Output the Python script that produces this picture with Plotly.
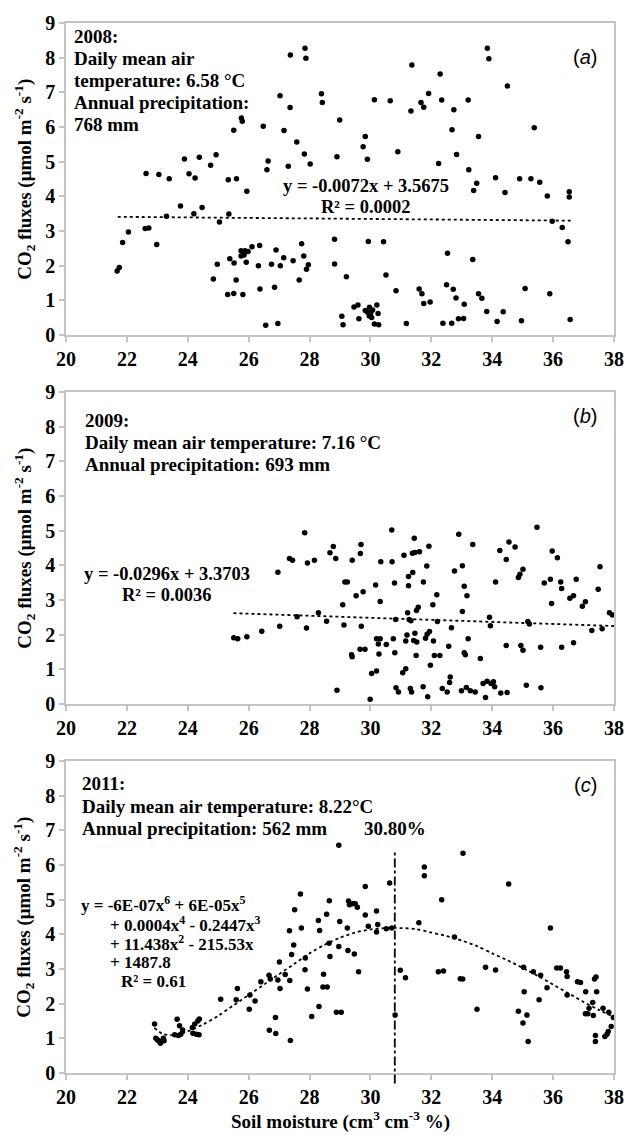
import plotly.graph_objects as go

# ---------------- data ----------------
a_x = [21.68, 21.75, 21.86, 22.05, 22.63, 22.60, 22.72, 22.98, 23.05, 23.39, 23.30, 23.76, 23.89, 24.04, 24.20,
       24.24, 24.38, 24.47, 24.75, 24.93, 24.84, 24.97, 25.04, 25.31, 25.33, 25.35, 25.38, 25.51, 25.52, 25.51,
       25.59, 25.60, 25.75, 25.75, 25.76, 25.79, 25.81, 25.85, 25.88, 25.92, 25.94, 25.98, 26.11, 26.32, 26.36,
       26.37, 26.48, 26.56, 26.60, 26.64, 26.75, 26.85, 26.90, 26.96, 27.03, 27.04, 27.15, 27.16, 27.30, 27.36,
       27.37, 27.46, 27.58, 27.66, 27.74, 27.81, 27.83, 27.85, 27.88, 27.90, 27.96, 28.02, 28.39, 28.42, 28.82,
       28.82, 28.90, 28.99, 29.06, 29.10, 29.21, 29.46, 29.59, 29.62, 29.76, 29.83, 29.83, 29.90, 29.91, 29.93,
       29.96, 29.97, 30.01, 30.04, 30.07, 30.13, 30.13, 30.21, 30.25, 30.27, 30.43, 30.51, 30.65, 30.84, 30.90,
       31.18, 31.33, 31.36, 31.60, 31.66, 31.69, 31.75, 31.75, 31.91, 31.96, 32.24, 32.29, 32.34, 32.38, 32.53,
       32.50, 32.67, 32.68, 32.72, 32.74, 32.81, 32.83, 32.89, 33.06, 33.08, 33.21, 33.23, 33.36, 33.39, 33.49,
       33.55, 33.55, 33.66, 33.82, 33.84, 33.89, 34.11, 34.16, 34.36, 34.42, 34.50, 34.90, 34.96, 35.08, 35.27,
       35.38, 35.56, 35.81, 35.89, 35.97, 36.30, 36.49, 36.53, 36.53, 36.56]
a_y = [1.85, 1.95, 2.67, 2.97, 4.66, 3.07, 3.09, 2.61, 4.63, 4.51, 3.43, 3.72, 5.08, 4.65, 3.50,
       4.53, 5.13, 3.68, 4.90, 5.20, 1.62, 2.04, 3.26, 1.17, 4.48, 3.49, 2.20, 5.91, 2.08, 1.20,
       1.59, 4.51, 2.43, 2.28, 6.26, 6.17, 1.17, 2.31, 2.43, 2.10, 4.15, 2.41, 2.55, 2.00, 2.58,
       1.33, 6.02, 0.28, 4.77, 5.02, 2.04, 1.38, 2.45, 0.33, 6.90, 2.00, 2.23, 5.90, 4.87, 6.56,
       8.08, 2.14, 5.57, 1.59, 2.63, 2.28, 5.22, 8.27, 7.98, 1.90, 2.03, 4.93, 6.96, 6.71, 2.76,
       2.05, 5.14, 6.20, 0.54, 0.30, 1.68, 0.81, 0.87, 0.47, 5.43, 5.73, 0.71, 5.07, 0.66, 2.70,
       0.55, 0.80, 0.64, 0.51, 0.72, 6.79, 0.32, 0.87, 0.62, 0.30, 2.69, 1.73, 6.76, 1.28, 5.29,
       0.33, 6.46, 7.79, 1.33, 6.71, 1.19, 6.57, 0.91, 6.97, 0.95, 4.95, 7.53, 6.78, 0.34, 2.36,
       1.45, 0.34, 5.92, 1.32, 6.50, 1.07, 5.21, 0.47, 0.48, 0.89, 6.78, 4.77, 2.18, 4.17, 4.38,
       5.73, 1.19, 1.06, 0.68, 8.27, 7.97, 4.54, 0.39, 0.67, 4.11, 7.18, 4.51, 0.41, 1.34, 4.51,
       5.98, 4.41, 4.01, 1.19, 3.28, 3.10, 2.69, 3.98, 4.13, 0.45]

b_x = [25.51, 25.64, 25.94, 26.43, 26.96, 27.02, 27.34, 27.44, 27.59, 27.84, 27.90, 27.93, 28.16, 28.29, 28.56,
       28.67, 28.78, 28.86, 28.90, 29.09, 29.13, 29.16, 29.24, 29.38, 29.40, 29.40, 29.53, 29.66, 29.67, 29.69,
       29.70, 29.76, 29.82, 29.99, 30.04, 30.17, 30.20, 30.20, 30.26, 30.28, 30.32, 30.34, 30.32, 30.52, 30.70,
       30.71, 30.75, 30.79, 30.80, 30.83, 30.84, 30.92, 31.06, 31.10, 31.16, 31.16, 31.20, 31.22, 31.25, 31.25,
       31.27, 31.31, 31.33, 31.35, 31.38, 31.39, 31.42, 31.44, 31.46, 31.46, 31.50, 31.51, 31.52, 31.57, 31.61,
       31.74, 31.73, 31.81, 31.85, 31.86, 31.88, 31.92, 31.94, 31.97, 32.05, 32.07, 32.10, 32.18, 32.20, 32.28,
       32.36, 32.52, 32.57, 32.60, 32.62, 32.66, 32.76, 32.90, 32.99, 33.02, 33.02, 33.08, 33.08, 33.12, 33.15,
       33.17, 33.21, 33.28, 33.36, 33.44, 33.61, 33.70, 33.78, 33.83, 33.91, 33.94, 33.96, 34.04, 34.08, 34.11,
       34.25, 34.28, 34.46, 34.46, 34.49, 34.55, 34.75, 34.86, 34.91, 34.94, 35.01, 35.01, 35.12, 35.17, 35.22,
       35.47, 35.59, 35.60, 35.71, 35.91, 35.95, 35.97, 36.14, 36.25, 36.28, 36.28, 36.55, 36.67, 36.67, 36.76,
       36.96, 37.06, 37.27, 37.48, 37.54, 37.61, 37.85, 37.95]
b_y = [1.91, 1.88, 1.94, 2.10, 3.80, 2.24, 4.20, 4.15, 2.52, 4.94, 2.19, 4.07, 4.15, 2.63, 2.39,
       4.36, 4.54, 4.20, 0.40, 2.86, 2.28, 3.52, 3.52, 1.42, 4.15, 1.36, 3.12, 1.58, 4.34, 4.60,
       2.24, 3.24, 1.58, 0.14, 0.88, 3.43, 0.95, 1.88, 1.73, 1.44, 2.96, 4.10, 1.88, 1.72, 5.02,
       4.10, 1.88, 3.49, 1.48, 2.44, 0.47, 0.35, 0.90, 4.29, 1.02, 1.82, 1.99, 2.63, 3.41, 3.68,
       2.44, 0.45, 2.40, 0.35, 4.35, 3.79, 1.83, 4.78, 4.37, 2.04, 1.40, 2.70, 1.79, 2.79, 4.39,
       3.52, 0.50, 1.90, 3.98, 2.01, 0.21, 4.55, 2.09, 1.12, 2.86, 1.82, 1.40, 3.15, 2.38, 1.40,
       0.45, 0.35, 1.67, 0.62, 0.78, 2.20, 3.84, 4.90, 0.38, 3.99, 2.67, 3.40, 1.48, 1.42, 0.48,
       3.12, 1.88, 0.38, 4.60, 0.35, 1.31, 0.59, 0.19, 0.66, 2.50, 2.26, 0.59, 0.64, 0.50, 3.52,
       4.43, 0.32, 4.17, 1.69, 0.33, 4.67, 4.53, 3.65, 3.74, 1.69, 3.89, 1.55, 0.54, 2.38, 2.31,
       5.10, 1.64, 0.47, 3.49, 3.60, 2.90, 4.41, 4.22, 3.52, 3.33, 1.64, 3.05, 3.12, 1.77, 3.60,
       2.82, 2.95, 2.12, 3.31, 3.96, 2.17, 2.63, 2.57]

c_x = [22.91, 22.95, 23.00, 23.04, 23.10, 23.20, 23.22, 23.57, 23.65, 23.69, 23.73, 23.77, 23.83, 24.15, 24.17,
       24.23, 24.28, 24.33, 24.38, 24.37, 25.08, 25.59, 25.63, 26.02, 26.04, 26.21, 26.40, 26.67, 26.68, 26.71,
       26.88, 26.89, 26.96, 27.01, 27.03, 27.20, 27.34, 27.35, 27.37, 27.41, 27.48, 27.51, 27.70, 27.73, 27.85,
       27.86, 27.93, 28.07, 28.29, 28.31, 28.33, 28.44, 28.46, 28.56, 28.58, 28.64, 28.65, 28.67, 28.88, 28.96,
       28.96, 28.99, 29.04, 29.24, 29.26, 29.28, 29.31, 29.42, 29.47, 29.50, 29.57, 29.61, 29.83, 29.83, 29.93,
       30.20, 30.20, 30.24, 30.52, 30.63, 30.70, 30.81, 30.98, 31.15, 31.59, 31.77, 31.77, 32.23, 32.34, 32.40,
       32.76, 32.95, 33.03, 33.04, 33.50, 33.78, 34.11, 34.54, 34.86, 35.03, 35.05, 35.01, 35.14, 35.18, 35.35,
       35.54, 35.59, 35.80, 35.91, 36.12, 36.24, 36.44, 36.46, 36.46, 36.80, 36.90, 37.07, 37.06, 37.14, 37.18,
       37.30, 37.32, 37.36, 37.39, 37.39, 37.41, 37.43, 37.64, 37.70, 37.77, 37.81, 37.83, 37.91, 37.98]
c_y = [1.41, 1.00, 0.96, 0.93, 0.86, 1.00, 0.93, 1.10, 1.55, 1.08, 1.36, 1.12, 1.24, 1.31, 1.15,
       1.41, 1.12, 1.50, 1.56, 1.10, 2.13, 2.11, 2.44, 1.84, 2.25, 2.08, 2.63, 2.82, 1.23, 2.71,
       1.60, 1.14, 2.68, 3.20, 2.44, 2.84, 4.10, 2.67, 0.94, 3.42, 3.69, 4.71, 5.16, 4.18, 2.98,
       3.32, 2.42, 1.63, 4.40, 1.92, 4.11, 2.48, 2.85, 4.58, 2.48, 3.74, 4.97, 3.36, 1.75, 6.57,
       3.65, 4.37, 1.75, 4.18, 3.53, 4.96, 4.85, 4.88, 3.43, 4.88, 4.78, 2.92, 5.38, 4.56, 4.23,
       4.67, 4.07, 4.28, 4.16, 5.48, 4.18, 1.67, 2.96, 2.75, 4.33, 5.94, 5.69, 2.92, 5.00, 2.94,
       3.92, 2.72, 2.71, 6.34, 1.84, 3.05, 2.97, 5.45, 1.78, 3.05, 2.34, 1.44, 1.67, 0.91, 2.92,
       2.11, 2.82, 2.46, 4.18, 3.03, 3.03, 2.92, 2.78, 2.25, 2.63, 2.61, 2.34, 1.71, 1.71, 1.87,
       2.03, 1.66, 2.71, 1.08, 0.91, 2.77, 2.34, 1.87, 1.05, 1.12, 1.20, 1.75, 1.34, 1.60]

# trend lines
a_trend_x = [21.7, 36.6]
a_trend_y = [3.41, 3.30]
b_trend_x = [25.5, 38.0]
b_trend_y = [2.62, 2.25]
c_curve_x = [22.9, 23.2, 23.6, 24.0, 24.5, 25.0, 25.5, 26.0, 26.5, 27.0, 27.5, 28.0, 28.5, 29.0, 29.5, 30.0,
             30.5, 31.0, 31.5, 32.0, 32.5, 33.0, 33.5, 34.0, 34.5, 35.0, 35.5, 36.0, 36.5, 37.0, 37.5, 38.0]
c_curve_y = [1.30, 1.12, 1.10, 1.20, 1.40, 1.65, 1.95, 2.25, 2.55, 2.85, 3.15, 3.45, 3.70, 3.90, 4.05, 4.14,
             4.18, 4.18, 4.15, 4.05, 3.95, 3.82, 3.66, 3.45, 3.25, 3.03, 2.80, 2.55, 2.30, 2.05, 1.82, 1.62]
c_peak = 30.8

x_ticks = [20, 22, 24, 26, 28, 30, 32, 34, 36, 38]
y_ticks = [0, 1, 2, 3, 4, 5, 6, 7, 8, 9]

a_info = ["2008:", "Daily mean air", "temperature: 6.58 °C", "Annual precipitation:", "768 mm"]
b_info = ["2009:", "Daily mean air temperature: 7.16 °C", "Annual precipitation: 693 mm"]
c_info = ["2011:", "Daily mean air temperature: 8.22°C", "Annual precipitation: 562 mm"]
c_eq = ["y = -6E-07x<sup>6</sup> + 6E-05x<sup>5</sup>", "+ 0.0004x<sup>4</sup> - 0.2447x<sup>3</sup>",
        "+ 11.438x<sup>2</sup> - 215.53x", "+ 1487.8", "R² = 0.61"]

# ---------------- figure ----------------
W, H = 636, 1135
ML, MR, MT, MB = 66, 12, 20, 62
domains = {1: [0.7028, 1.0], 2: [0.3514, 0.6486], 3: [0.0, 0.2972]}

SERIF = "Liberation Serif, Times New Roman, serif"
SANS = "Liberation Sans, Arial, sans-serif"
AXC = "#c4c4c4"

fig = go.Figure()

def ax(i):
    return ("x", "y") if i == 1 else (f"x{i}", f"y{i}")

def add_points(i, xs, ys):
    xa, ya = ax(i)
    fig.add_trace(go.Scatter(x=xs, y=ys, mode="markers", marker=dict(color="black", size=5.5),
                             xaxis=xa, yaxis=ya, showlegend=False, hoverinfo="skip"))

def add_line(i, xs, ys, shape="linear"):
    xa, ya = ax(i)
    fig.add_trace(go.Scatter(x=xs, y=ys, mode="lines",
                             line=dict(color="black", width=1.8, dash="dot", shape=shape, smoothing=0.8),
                             xaxis=xa, yaxis=ya, showlegend=False, hoverinfo="skip"))

add_line(1, a_trend_x, a_trend_y)
add_points(1, a_x, a_y)
add_line(2, b_trend_x, b_trend_y)
add_points(2, b_x, b_y)
add_line(3, c_curve_x, c_curve_y, shape="spline")
add_points(3, c_x, c_y)

for i in (1, 2, 3):
    sx = "" if i == 1 else str(i)
    common = dict(showgrid=False, zeroline=False, showline=True, linecolor=AXC, linewidth=1.5, mirror=True,
                  ticks="outside", ticklen=5, tickcolor=AXC, tickwidth=1.5,
                  tickfont=dict(family=SERIF, size=20, color="black", weight="bold"))
    fig.layout[f"xaxis{sx}"] = dict(domain=[0, 1], range=[20, 38], anchor=f"y{sx}", tickvals=x_ticks, **common)
    fig.layout[f"yaxis{sx}"] = dict(domain=domains[i], range=[0, 9], anchor=f"x{sx}", tickvals=y_ticks, **common)

ann = []
def txt(i, x, y, text, size=19, xanchor="left", yanchor="middle", align="left", family=SERIF, bold=True):
    xa, ya = ax(i)
    ann.append(dict(xref=xa, yref=ya, x=x, y=y, text=text, showarrow=False,
                    xanchor=xanchor, yanchor=yanchor, align=align,
                    font=dict(family=family, size=size, color="black", weight="bold" if bold else "normal")))

# panel a
for t, yy in zip(a_info, [8.6, 7.97, 7.34, 6.71, 6.08]):
    txt(1, 20.19, yy, t)
txt(1, 29.84, 4.3, "y = -0.0072x + 3.5675", size=18.5, xanchor="center")
txt(1, 29.84, 3.7, "R² = 0.0002", size=18.5, xanchor="center")
txt(1, 37.5, 8.02, "(<i>a</i>)", size=20, xanchor="right", family=SANS, bold=False)

# panel b
for t, yy in zip(b_info, [8.17, 7.54, 6.91]):
    txt(2, 20.55, yy, t)
txt(2, 23.32, 3.75, "y = -0.0296x + 3.3703", size=18.5, xanchor="center")
txt(2, 23.32, 3.15, "R² = 0.0036", size=18.5, xanchor="center")
txt(2, 37.5, 8.3, "(<i>b</i>)", size=20, xanchor="right", family=SANS, bold=False)

# panel c
for t, yy in zip(c_info, [8.35, 7.68, 7.06]):
    txt(3, 20.45, yy, t)
for t, xx, yy in zip(c_eq, [20.42, 21.39, 21.39, 21.39, 21.74], [4.87, 4.31, 3.75, 3.19, 2.63]):
    txt(3, xx, yy, t, size=17)
txt(3, c_peak, 7.06, "30.80%", xanchor="center")
txt(3, 37.5, 8.3, "(<i>c</i>)", size=20, xanchor="right", family=SANS, bold=False)

plot_h = H - MT - MB
for i in (1, 2, 3):
    d = domains[i]
    ann.append(dict(xref="paper", yref="paper", x=(23 - ML) / (W - ML - MR), y=(d[0] + d[1]) / 2,
                    text="CO<sub>2</sub> fluxes (μmol m<sup>-2</sup> s<sup>-1</sup>)", textangle=-90,
                    showarrow=False, xanchor="center", yanchor="middle",
                    font=dict(family=SERIF, size=19, color="black", weight="bold")))

ann.append(dict(xref="paper", yref="paper", x=0.5, y=-(1121 - (H - MB)) / plot_h,
                text="Soil moisture (cm<sup>3</sup> cm<sup>-3</sup> %)", showarrow=False,
                xanchor="center", yanchor="middle",
                font=dict(family=SERIF, size=19, color="black", weight="bold")))

# vertical dash-dot line at the peak of the fitted curve (panel c)
d3 = domains[3]
fig.add_shape(type="line", xref="x3", yref="paper", x0=c_peak, x1=c_peak,
              y0=d3[0] + (d3[1] - d3[0]) * (-0.3 / 9), y1=d3[0] + (d3[1] - d3[0]) * (6.4 / 9),
              line=dict(color="black", width=1.8, dash="dashdot"))

fig.update_layout(width=W, height=H, margin=dict(l=ML, r=MR, t=MT, b=MB),
                  paper_bgcolor="white", plot_bgcolor="white", annotations=ann, showlegend=False)

fig.write_html("out.html")
